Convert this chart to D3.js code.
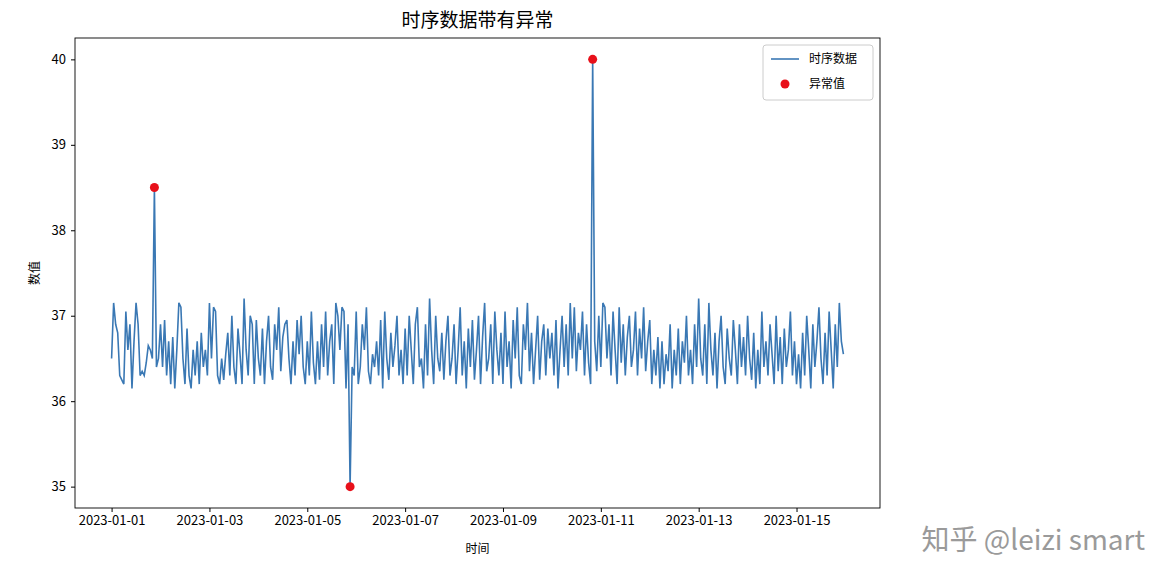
<!DOCTYPE html>
<html><head><meta charset="utf-8">
<script src="https://cdn.jsdelivr.net/npm/d3@7"></script>
<style>body{margin:0;background:#fff}text{font-family:"Noto Sans CJK SC",sans-serif}</style>
</head><body><svg id="c" width="1175" height="585"></svg>
<script>
const startDate = "2023-01-01T00:00:00";
const values = [
36.5,37.15,36.9,36.8,36.3,36.25,36.2,37.05,36.6,36.9,36.15,36.7,37.15,36.9,36.3,36.35,36.3,36.45,36.65,36.6,36.5,38.5,36.4,36.5,
36.9,36.4,36.95,36.3,36.7,36.2,36.75,36.15,36.6,37.15,37.1,36.5,36.2,36.85,36.3,36.15,36.6,36.3,36.7,36.2,36.8,36.4,36.6,36.3,
37.15,36.5,37.1,37.05,36.3,36.2,36.5,36.25,36.55,36.8,36.3,37.0,36.4,36.2,36.85,36.55,36.2,37.2,36.6,36.3,37.0,36.9,36.2,36.95,
36.5,36.3,36.85,36.2,36.7,37.0,36.4,36.25,36.9,36.6,37.1,36.35,36.75,36.9,36.95,36.5,36.2,36.7,36.3,36.95,36.55,37.0,36.4,36.2,
36.7,36.3,37.05,36.45,36.2,36.7,36.25,36.9,36.4,37.05,36.3,36.7,36.9,36.2,37.15,37.0,36.6,37.1,37.05,36.15,36.9,35.0,36.4,36.3,
37.05,36.2,36.4,36.9,36.6,37.1,36.35,36.2,36.55,36.4,36.7,36.3,36.95,36.15,37.05,36.5,36.25,36.8,36.4,36.65,37.0,36.3,36.6,36.2,
36.85,36.3,37.0,36.6,36.2,36.9,37.1,36.4,36.5,36.15,36.9,36.3,37.2,36.6,36.2,37.0,36.5,36.35,36.8,36.25,36.7,37.0,36.3,36.5,
36.9,36.2,36.6,37.1,36.3,36.7,36.15,36.85,36.4,36.95,36.25,36.6,37.0,36.2,36.75,37.15,36.35,36.5,36.9,36.2,37.05,36.6,36.3,36.8,
36.2,37.05,36.4,36.7,36.15,36.95,36.5,37.1,36.3,36.2,36.9,36.6,37.15,36.35,36.8,36.2,36.6,37.0,36.25,36.7,36.9,36.3,36.85,36.5,
36.8,36.3,36.95,36.15,36.6,37.0,36.4,36.9,36.3,37.15,36.5,37.1,36.35,36.8,36.6,37.05,36.3,36.9,36.45,36.2,40.0,36.7,36.35,37.0,
36.4,37.15,37.1,36.5,36.9,36.3,37.05,36.6,36.2,37.1,36.45,36.9,36.3,36.75,37.0,36.4,36.6,37.05,36.3,36.85,36.5,37.1,36.35,36.7,
36.95,36.2,36.6,36.3,36.75,36.15,36.7,36.2,36.55,36.35,36.9,36.15,36.6,36.3,36.85,36.2,36.7,36.45,37.0,36.3,36.6,36.2,36.9,36.4,
37.2,36.5,36.3,36.9,36.2,37.15,36.6,36.3,36.8,36.15,36.7,37.0,36.4,36.2,36.85,36.5,36.3,36.95,36.6,36.2,36.9,36.4,36.75,36.3,
37.0,36.5,36.25,36.8,36.15,36.6,36.2,37.05,36.4,36.7,36.3,36.9,36.55,36.2,37.0,36.35,36.75,36.2,36.85,36.4,36.6,37.05,36.3,36.7,
36.2,36.55,36.15,36.8,36.3,37.0,36.6,36.15,36.9,36.4,36.7,37.1,36.5,36.2,36.8,36.3,37.05,36.6,36.15,36.9,36.4,37.15,36.7,36.55];
const anomalyIdx = [21, 117, 236];
const yTicks = [35,36,37,38,39,40];
const title = "时序数据带有异常", xLabel = "时间", yLabel = "数值";

const t0 = new Date(startDate);
const data = values.map((v,i)=>({t:new Date(t0.getTime()+i*3600e3), v}));
const svg = d3.select("#c");
const L=75,R=880,T=38,B=508;
const tMin=data[0].t, tMax=data[data.length-1].t, pad=(tMax-tMin)*0.05;
const x=d3.scaleTime().domain([new Date(+tMin-pad),new Date(+tMax+pad)]).range([L,R]);
const y=d3.scaleLinear().domain([34.75,40.25]).range([B,T]);
const ticksX=d3.range(0,8).map(d=>new Date(t0.getTime()+d*2*86400e3));
const gx=svg.append("g").attr("transform",`translate(0,${B})`).call(d3.axisBottom(x).tickValues(ticksX).tickFormat(d3.timeFormat("%Y-%m-%d")).tickSize(4).tickPadding(4));
const gy=svg.append("g").attr("transform",`translate(${L},0)`).call(d3.axisLeft(y).tickValues(yTicks).tickFormat(d3.format("d")).tickSize(4).tickPadding(5));
[gx,gy].forEach(g=>{g.select(".domain").remove();g.selectAll("text").attr("font-size",13).attr("fill","#000");g.selectAll("line").attr("stroke","#000");});
svg.append("path").datum(data).attr("fill","none").attr("stroke","#3a78b4").attr("stroke-width",1.6)
 .attr("d",d3.line().x(d=>x(d.t)).y(d=>y(d.v)));
svg.selectAll("circle.a").data(anomalyIdx.map(i=>data[i])).join("circle").attr("cx",d=>x(d.t)).attr("cy",d=>y(d.v)).attr("r",4.5).attr("fill","#e8101a");
svg.append("rect").attr("x",L).attr("y",T).attr("width",R-L).attr("height",B-T).attr("fill","none").attr("stroke","#000").attr("stroke-width",0.9);
svg.append("text").attr("x",(L+R)/2).attr("y",27).attr("text-anchor","middle").attr("font-size",19).text(title);
svg.append("text").attr("x",(L+R)/2).attr("y",553).attr("text-anchor","middle").attr("font-size",12).text(xLabel);
svg.append("text").attr("transform","translate(39,273) rotate(-90)").attr("text-anchor","middle").attr("font-size",12).text(yLabel);
const lg=svg.append("g");
lg.append("rect").attr("x",763).attr("y",45).attr("width",110).attr("height",55).attr("rx",3).attr("fill","#fff").attr("stroke","#ccc");
lg.append("line").attr("x1",771).attr("x2",799).attr("y1",59).attr("y2",59).attr("stroke","#3a78b4").attr("stroke-width",1.6);
lg.append("circle").attr("cx",785).attr("cy",84).attr("r",4.5).attr("fill","#e8101a");
lg.append("text").attr("x",809).attr("y",63).attr("font-size",12).text("时序数据");
lg.append("text").attr("x",809).attr("y",88).attr("font-size",12).text("异常值");
svg.append("text").attr("x",1145).attr("y",550).attr("text-anchor","end").attr("font-size",28).attr("fill","#9a9a9a").text("知乎 @leizi smart");
</script></body></html>
